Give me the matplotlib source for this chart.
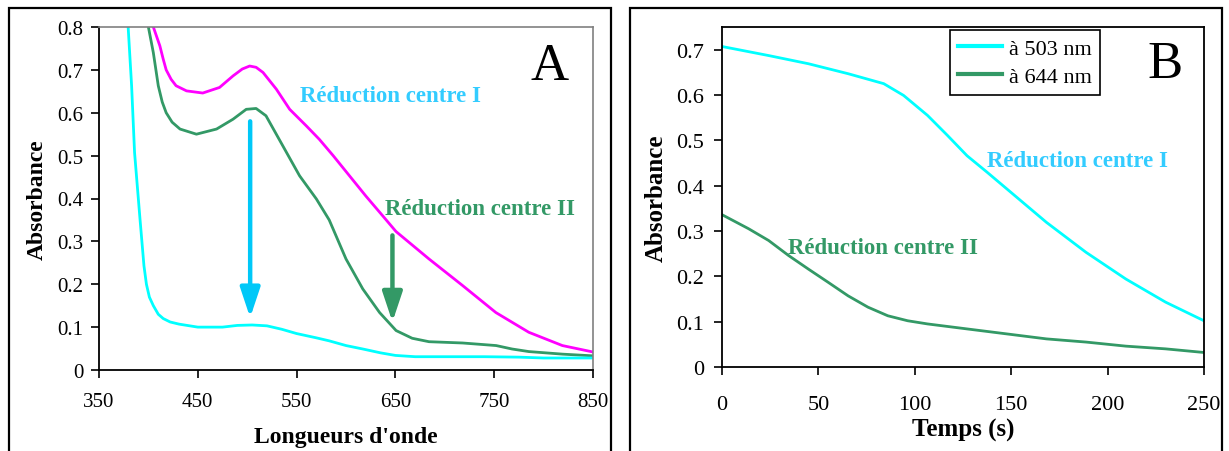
import matplotlib
matplotlib.use("Agg")
import matplotlib.pyplot as plt
from matplotlib.patches import Rectangle

plt.rcParams['font.family'] = ['Liberation Serif', 'DejaVu Serif']

# ---------------- Panel A data (spectra) ----------------
wl_reduced = [379.5, 383, 386, 391.5, 395.5, 398, 401, 405, 410, 415, 422, 431, 450, 475, 490,
              505, 520, 535, 550, 570, 583, 600, 617, 635, 650, 670, 700, 740, 775, 800, 850]
abs_reduced = [0.80, 0.663, 0.507, 0.352, 0.243, 0.20, 0.17, 0.15, 0.13, 0.12, 0.112, 0.107, 0.100,
               0.100, 0.104, 0.105, 0.103, 0.095, 0.085, 0.075, 0.068, 0.057, 0.049, 0.040, 0.034,
               0.031, 0.031, 0.031, 0.030, 0.028, 0.028]

wl_oxidized = [405, 408, 411.6, 415, 418, 423, 428, 438.6, 455, 472, 485.7, 495, 502.5, 509, 516,
               529.5, 543, 560, 573, 587, 603.5, 620, 637, 650.6, 684, 718, 751.7, 785, 819, 850]
abs_oxidized = [0.80, 0.78, 0.756, 0.725, 0.70, 0.678, 0.663, 0.651, 0.646, 0.659, 0.686, 0.702,
                0.709, 0.706, 0.694, 0.655, 0.608, 0.569, 0.538, 0.50, 0.453, 0.406, 0.36, 0.323,
                0.259, 0.197, 0.134, 0.088, 0.057, 0.042]

wl_inter = [400, 405, 410, 414, 418, 424, 432, 448.6, 469, 485.7, 499, 509, 519, 536, 553, 570, 583,
            600, 617, 634, 650.7, 667, 684, 718, 752, 768, 785, 819, 850]
abs_inter = [0.80, 0.74, 0.663, 0.625, 0.60, 0.578, 0.562, 0.55, 0.562, 0.585, 0.608, 0.61, 0.593,
             0.523, 0.453, 0.399, 0.350, 0.259, 0.189, 0.134, 0.092, 0.074, 0.066, 0.063, 0.057,
             0.049, 0.043, 0.037, 0.033]

xticks_A = [350, 450, 550, 650, 750, 850]
yticks_A = [0, 0.1, 0.2, 0.3, 0.4, 0.5, 0.6, 0.7, 0.8]

# ---------------- Panel B data (kinetics) ----------------
t_503 = [0, 24.2, 44.8, 65.4, 83.9, 94.2, 106.6, 116.9, 127.1, 137.4, 147.7, 168.3, 188.8, 209.5,
         230.1, 250]
abs_503 = [0.707, 0.687, 0.669, 0.647, 0.625, 0.599, 0.555, 0.511, 0.466, 0.43, 0.393, 0.319, 0.253,
           0.194, 0.143, 0.102]

t_644 = [0, 13.8, 24.2, 34.5, 44.8, 55.0, 65.4, 75.7, 86.0, 96.3, 106.6, 127.1, 147.7, 168.3, 188.8,
         209.5, 230.1, 250]
abs_644 = [0.336, 0.305, 0.279, 0.246, 0.216, 0.187, 0.157, 0.132, 0.113, 0.102, 0.095, 0.084, 0.073,
           0.062, 0.055, 0.046, 0.04, 0.032]

xticks_B = [0, 50, 100, 150, 200, 250]
yticks_B = [0, 0.1, 0.2, 0.3, 0.4, 0.5, 0.6, 0.7]
legend_labels = ['à 503 nm', 'à 644 nm']

CYAN = '#00FFFF'
MAGENTA = '#FF00FF'
GREEN = '#339966'
SKY = '#33CCFF'
ARROW_BLUE = '#00C8F8'

W, H = 1229, 452
fig = plt.figure(figsize=(W / 100, H / 100), dpi=100)

# outer panel frames
for (x0, x1) in [(9, 611), (630, 1222)]:
    fig.patches.append(Rectangle((x0 / W, -0.05), (x1 - x0) / W, (H - 9) / H + 0.05,
                                 transform=fig.transFigure, fill=False, edgecolor='black',
                                 linewidth=1.6, zorder=0))

# ---------------- Panel A ----------------
axA = fig.add_axes([99 / W, (H - 371) / H, (593 - 99) / W, (371 - 28) / H])
lw = 2.0
axA.plot(wl_oxidized, abs_oxidized, color=MAGENTA, lw=lw)
axA.plot(wl_inter, abs_inter, color=GREEN, lw=lw)
axA.plot(wl_reduced, abs_reduced, color=CYAN, lw=lw)
axA.set_xlim(350, 850)
axA.set_ylim(0, 0.8)
axA.set_xticks(xticks_A)
axA.set_yticks(yticks_A)
axA.set_yticklabels(['0' if v == 0 else f'{v:.1f}' for v in yticks_A])
for s in ['top', 'right']:
    axA.spines[s].set_color('#808080')
    axA.spines[s].set_linewidth(1.2)
for s in ['left', 'bottom']:
    axA.spines[s].set_color('black')
    axA.spines[s].set_linewidth(1.3)
axA.tick_params(axis='both', direction='out', length=6, width=1.2, labelsize=15)
axA.tick_params(axis='x', pad=10)
axA.tick_params(axis='y', pad=5)
axA.set_xlabel("Longueurs d'onde", fontsize=17, fontweight='bold', labelpad=11)
axA.set_ylabel('Absorbance', fontsize=17, fontweight='bold', labelpad=7)

axA.annotate('', xy=(503, 0.122), xytext=(503, 0.58),
             arrowprops=dict(arrowstyle='-|>,head_width=0.3,head_length=0.9', lw=3.2,
                             color=ARROW_BLUE, mutation_scale=20, shrinkA=0, shrinkB=0))
axA.annotate('', xy=(647, 0.112), xytext=(647, 0.314),
             arrowprops=dict(arrowstyle='-|>,head_width=0.3,head_length=0.9', lw=3.2,
                             color=GREEN, mutation_scale=20, shrinkA=0, shrinkB=0))
axA.text(553.5, 0.628, 'Réduction centre I', color=SKY, fontsize=16.5, fontweight='bold',
         ha='left', va='baseline')
axA.text(639.5, 0.364, 'Réduction centre II', color=GREEN, fontsize=16.5, fontweight='bold',
         ha='left', va='baseline')
axA.text(806, 0.679, 'A', fontsize=38, ha='center', va='baseline')

# ---------------- Panel B ----------------
axB = fig.add_axes([722 / W, (H - 368) / H, (1204 - 722) / W, (368 - 28) / H])
axB.plot(t_503, abs_503, color=CYAN, lw=lw, label=legend_labels[0])
axB.plot(t_644, abs_644, color=GREEN, lw=lw, label=legend_labels[1])
axB.set_xlim(0, 250)
axB.set_ylim(0, 0.75)
axB.set_xticks(xticks_B)
axB.set_yticks(yticks_B)
axB.set_yticklabels(['0' if v == 0 else f'{v:.1f}' for v in yticks_B])
for s in axB.spines.values():
    s.set_color('black')
    s.set_linewidth(1.3)
axB.tick_params(axis='both', direction='out', length=6, width=1.2, labelsize=16)
axB.tick_params(axis='x', pad=14)
axB.tick_params(axis='y', pad=7)
axB.set_xlabel('Temps (s)', fontsize=18, fontweight='bold', labelpad=3)
axB.set_ylabel('Absorbance', fontsize=18, fontweight='bold', labelpad=6)

leg = axB.legend(loc='upper left', bbox_to_anchor=(0.473, 0.99), fontsize=16, frameon=True,
                 fancybox=False, edgecolor='black', framealpha=1, handlelength=2.0,
                 handletextpad=0.3, borderpad=0.35, labelspacing=0.35, borderaxespad=0)
leg.get_frame().set_linewidth(1.2)
for h in leg.get_lines():
    h.set_linewidth(3)

axB.text(137.4, 0.444, 'Réduction centre I', color=SKY, fontsize=16.5, fontweight='bold',
         ha='left', va='baseline')
axB.text(34.2, 0.2515, 'Réduction centre II', color=GREEN, fontsize=16.5, fontweight='bold',
         ha='left', va='baseline')
axB.text(229.8, 0.639, 'B', fontsize=38, ha='center', va='baseline')

fig.savefig('out.png', dpi=100)
